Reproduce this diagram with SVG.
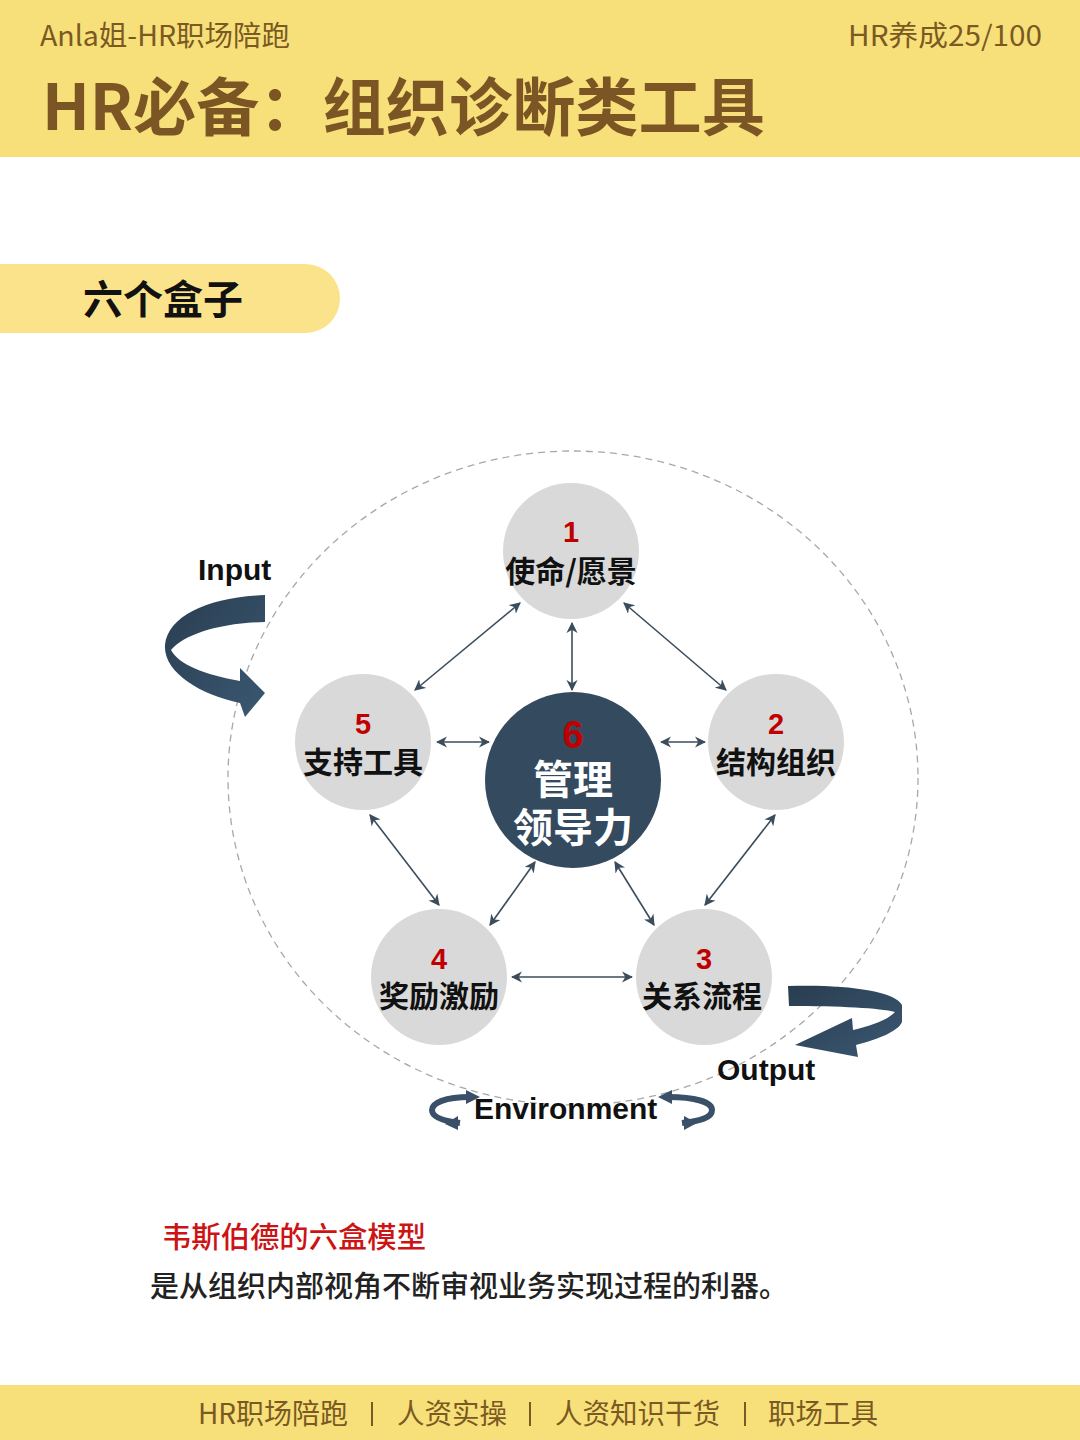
<svg xmlns="http://www.w3.org/2000/svg" width="1080" height="1440" viewBox="0 0 1080 1440">
<defs>
<style>
.cjk{font-family:"Noto Sans CJK SC","Noto Sans",sans-serif}
.hdr{fill:#7a5a22;font-size:28px}
.num{font-family:"Liberation Sans",Arial,sans-serif;font-weight:700;font-size:29px;fill:#c00000;text-anchor:middle}
.lbl{font-family:"Noto Sans CJK SC",sans-serif;font-weight:700;font-size:30px;fill:#111;text-anchor:middle}
.wlbl{font-family:"Noto Sans CJK SC",sans-serif;font-weight:700;font-size:40px;fill:#ffffff;text-anchor:middle}
.en{font-family:"Liberation Sans",Arial,sans-serif;font-weight:700;font-size:30px;fill:#111}
.node{fill:#d9d9d9}
.conn line{stroke:#3b4d5c;stroke-width:1.6;marker-start:url(#ah);marker-end:url(#ah)}
</style>
<marker id="ah" viewBox="0 0 10 10" refX="9" refY="5" markerWidth="7" markerHeight="7" markerUnits="strokeWidth" orient="auto-start-reverse">
<path d="M0,0 L10,5 L0,10 L3,5 Z" fill="#3b4d5c"/>
</marker>
<linearGradient id="rg" x1="0" y1="0" x2="1" y2="1">
<stop offset="0" stop-color="#2a3d50"/>
<stop offset="1" stop-color="#3a5872"/>
</linearGradient>
</defs>
<rect width="1080" height="1440" fill="#ffffff"/>
<g id="header">
<rect x="0" y="0" width="1080" height="157" fill="#f7e07a"/>
<text class="cjk hdr" x="40" y="46" textLength="250" lengthAdjust="spacingAndGlyphs">Anla姐-HR职场陪跑</text>
<text class="cjk hdr" x="848" y="46" textLength="194" lengthAdjust="spacingAndGlyphs">HR养成25/100</text>
<text class="cjk" x="42" y="130" font-size="63" font-weight="700" fill="#7b5523" textLength="723" lengthAdjust="spacingAndGlyphs">HR必备：组织诊断类工具</text>
</g>
<g id="section-title">
<rect x="-40" y="264" width="380" height="69" rx="34.5" fill="#fbe38b"/>
<text class="cjk" x="163" y="314" font-size="40" font-weight="600" fill="#111" text-anchor="middle">六个盒子</text>
</g>
<g id="boundary">
<ellipse cx="573" cy="778" rx="345" ry="327" fill="none" stroke="#a8a8a8" stroke-width="1.3" stroke-dasharray="7 5"/>
</g>
<g id="connectors" class="conn">
<line x1="520" y1="603" x2="415" y2="690"/>
<line x1="624" y1="603" x2="726" y2="690"/>
<line x1="572" y1="623" x2="572" y2="690"/>
<line x1="437" y1="742" x2="489" y2="742"/>
<line x1="661" y1="742" x2="705" y2="742"/>
<line x1="370" y1="815" x2="439" y2="905"/>
<line x1="535" y1="862" x2="490" y2="925"/>
<line x1="615" y1="862" x2="654" y2="925"/>
<line x1="775" y1="815" x2="705" y2="905"/>
<line x1="512" y1="977" x2="632" y2="977"/>
</g>
<g id="node1">
<circle class="node" cx="571" cy="551" r="68"/>
<text class="num" x="571" y="542">1</text>
<text class="lbl" x="571" y="582">使命/愿景</text>
</g>
<g id="node2">
<circle class="node" cx="776" cy="742" r="68"/>
<text class="num" x="776" y="734">2</text>
<text class="lbl" x="776" y="773">结构组织</text>
</g>
<g id="node3">
<circle class="node" cx="704" cy="977" r="68"/>
<text class="num" x="704" y="969">3</text>
<text class="lbl" x="702" y="1007">关系流程</text>
</g>
<g id="node4">
<circle class="node" cx="439" cy="977" r="68"/>
<text class="num" x="439" y="969">4</text>
<text class="lbl" x="439" y="1007">奖励激励</text>
</g>
<g id="node5">
<circle class="node" cx="363" cy="742" r="68"/>
<text class="num" x="363" y="734">5</text>
<text class="lbl" x="363" y="773">支持工具</text>
</g>
<g id="node6">
<circle cx="573" cy="780" r="88" fill="#344a5f"/>
<text class="num" x="573" y="748" font-size="38" style="font-size:38px">6</text>
<text class="wlbl" x="573" y="794">管理</text>
<text class="wlbl" x="573" y="842">领导力</text>
</g>
<g id="input">
<text class="en" x="198" y="580">Input</text>
<path fill="url(#rg)" d="M265,595 C210,597 168,615 165,645 C163,672 200,695 240,703 L245,717 L265,693 L240,668 L240,681 C205,675 178,664 171,650 C185,634 220,623 265,622 Z"/>
</g>
<g id="output">
<path fill="url(#rg)" d="M788,986 C840,984 895,990 902,1005 L902,1022 C898,1032 875,1040 856,1045 L858,1057 L795,1045 L852,1018 L853,1030 C870,1026 888,1020 895,1012 C880,1008 840,1006 789,1006 Z"/>
<text class="en" x="717" y="1080">Output</text>
</g>
<g id="environment">
<path d="M470,1097 C445,1097 432,1103 432,1110 C432,1117 443,1121 460,1123" fill="none" stroke="#3a5068" stroke-width="6"/>
<path d="M466,1090 L480,1097 L466,1104 Z" fill="#3a5068"/>
<path d="M458,1116 L445,1124 L458,1130 Z" fill="#3a5068"/>
<path d="M668,1097 C695,1097 712,1102 712,1110 C712,1118 700,1121 682,1123" fill="none" stroke="#3a5068" stroke-width="6"/>
<path d="M672,1090 L658,1097 L672,1104 Z" fill="#3a5068"/>
<path d="M684,1116 L697,1123 L684,1130 Z" fill="#3a5068"/>
<text class="en" x="474" y="1119">Environment</text>
</g>
<g id="caption">
<text class="cjk" x="162" y="1248" font-size="29" font-weight="500" fill="#cc1414" textLength="264" lengthAdjust="spacingAndGlyphs">韦斯伯德的六盒模型</text>
<text class="cjk" x="150" y="1297" font-size="29" font-weight="500" fill="#222">是从组织内部视角不断审视业务实现过程的利器。</text>
</g>
<g id="footer">
<rect x="0" y="1385" width="1080" height="55" fill="#f7e07a"/>
<g class="cjk hdr">
<text x="198" y="1424" textLength="150" lengthAdjust="spacingAndGlyphs">HR职场陪跑</text>
<text x="397" y="1424" textLength="110" lengthAdjust="spacingAndGlyphs">人资实操</text>
<text x="555" y="1424" textLength="165" lengthAdjust="spacingAndGlyphs">人资知识干货</text>
<text x="768" y="1424" textLength="110" lengthAdjust="spacingAndGlyphs">职场工具</text>
</g>
<g stroke="#7a5a22" stroke-width="2">
<line x1="372" y1="1402" x2="372" y2="1426"/>
<line x1="530" y1="1402" x2="530" y2="1426"/>
<line x1="745" y1="1402" x2="745" y2="1426"/>
</g>
</g>
</svg>
